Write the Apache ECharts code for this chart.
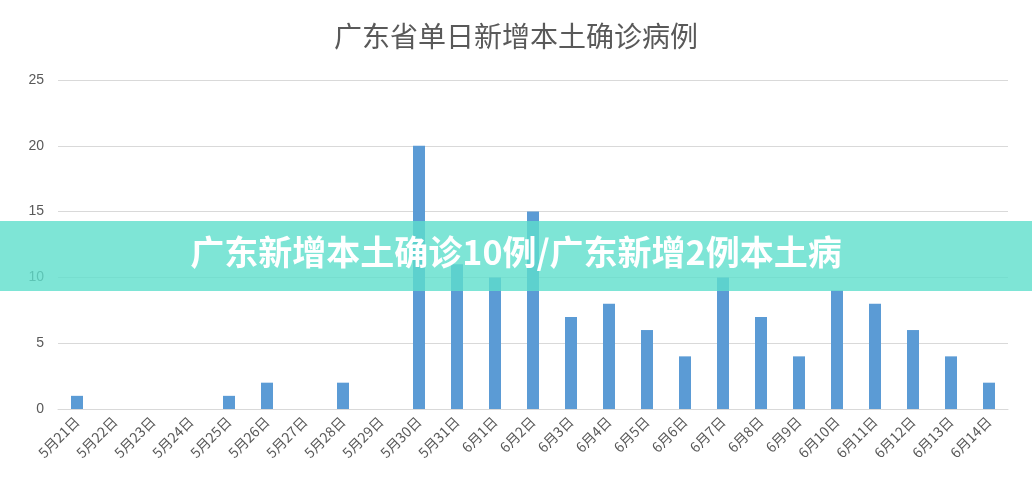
<!DOCTYPE html>
<html><head><meta charset="utf-8">
<script src="https://cdn.jsdelivr.net/npm/echarts@6/dist/echarts.min.js"></script>
<style>html,body{margin:0;padding:0;background:#fff}#c{width:1032px;height:504px}</style>
</head><body><div id="c"></div>
<script>
const categories = ['5月21日','5月22日','5月23日','5月24日','5月25日','5月26日','5月27日','5月28日','5月29日','5月30日','5月31日','6月1日','6月2日','6月3日','6月4日','6月5日','6月6日','6月7日','6月8日','6月9日','6月10日','6月11日','6月12日','6月13日','6月14日'];
const values = [1,0,0,0,1,2,0,2,0,20,11,10,15,7,8,6,4,10,7,4,9,8,6,4,2];
const titleText = '广东省单日新增本土确诊病例';
const bannerText = '广东新增本土确诊10例/广东新增2例本土病';
const chart = echarts.init(document.getElementById('c'));
chart.setOption({
  animation:false,
  title:{text:titleText,left:'center',top:17,textStyle:{fontFamily:'Noto Sans CJK SC',fontSize:28,fontWeight:'normal',color:'#595959'}},
  grid:{left:58,right:24,top:80,bottom:95},
  xAxis:{type:'category',data:categories,axisTick:{show:false},axisLine:{lineStyle:{color:'#d9d9d9'}},
    axisLabel:{rotate:45,interval:0,color:'#595959',fontSize:14,fontFamily:'Noto Sans CJK SC',margin:10}},
  yAxis:{type:'value',min:0,max:25,interval:5,axisLabel:{color:'#595959',fontSize:14,margin:14},
    splitLine:{lineStyle:{color:'#d9d9d9'}}},
  series:[{type:'bar',data:values,barWidth:12,itemStyle:{color:'#5b9bd5'}}],
  graphic:[
    {type:'rect',left:0,top:221,shape:{width:1032,height:70},style:{fill:'rgba(94,222,204,0.8)'},z:100},
    {type:'text',left:'center',top:235,style:{text:bannerText,fill:'#fff',font:'bold 34px "Noto Sans CJK SC"'},z:101}
  ]
});
</script></body></html>
